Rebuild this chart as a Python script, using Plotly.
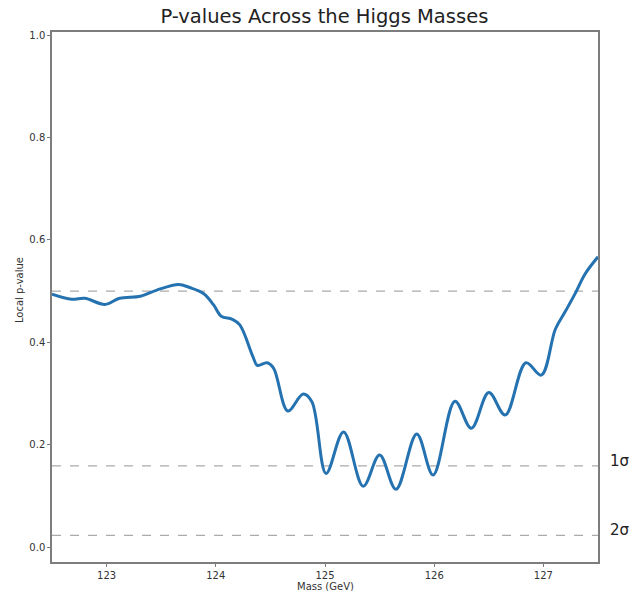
import plotly.graph_objects as go

# Local p-value scan across the Higgs mass window
mass_gev = [122.50, 122.68, 122.80, 122.985, 123.12, 123.31, 123.46, 123.66, 123.76,
            123.89, 123.98, 124.05, 124.15, 124.22, 124.34, 124.38, 124.47, 124.53,
            124.66, 124.80, 124.88, 125.01, 125.17, 125.35, 125.50, 125.65, 125.84,
            125.99, 126.19, 126.34, 126.50, 126.65, 126.84, 126.98, 127.11, 127.20,
            127.30, 127.38, 127.50]
local_p = [0.494, 0.484, 0.486, 0.474, 0.486, 0.490, 0.502, 0.513, 0.507,
           0.495, 0.473, 0.451, 0.445, 0.434, 0.372, 0.355, 0.360, 0.349,
           0.266, 0.299, 0.284, 0.144, 0.225, 0.119, 0.180, 0.113, 0.221,
           0.141, 0.285, 0.232, 0.302, 0.258, 0.360, 0.336, 0.426, 0.460,
           0.499, 0.533, 0.567]

# Reference levels: p = 0.5, then one- and two-sigma thresholds
ref_levels = [0.5, 0.1587, 0.0228]
ref_labels = ["", "1σ", "2σ"]

x_ticks = [123, 124, 125, 126, 127]
y_ticks = [0.0, 0.2, 0.4, 0.6, 0.8, 1.0]

label_font = dict(family="DejaVu Sans", size=10, color="#333")

fig = go.Figure()
fig.add_trace(go.Scatter(
    x=mass_gev, y=local_p, mode="lines",
    line=dict(color="#2572b1", width=3, shape="spline", smoothing=1.0),
    showlegend=False, hoverinfo="x+y",
))

for lvl, lab in zip(ref_levels, ref_labels):
    fig.add_shape(type="line", xref="paper", x0=0, x1=1, yref="y", y0=lvl, y1=lvl,
                  line=dict(color="#ababab", width=1.3, dash="dash"), layer="below")
    if lab:
        fig.add_annotation(xref="paper", x=1.0, xanchor="left", xshift=10,
                           yref="y", y=lvl, yanchor="middle", yshift=5,
                           text=lab, showarrow=False,
                           font=dict(family="DejaVu Sans", size=15, color="#222"))

# Axis titles as annotations for tight placement
fig.add_annotation(xref="paper", x=0.5, yref="paper", y=0, yanchor="top", yshift=-17,
                   text="Mass (GeV)", showarrow=False, font=label_font)
fig.add_annotation(xref="paper", x=0, xanchor="center", xshift=-33,
                   yref="paper", y=0.513, yanchor="middle", textangle=-90,
                   text="Local p-value", showarrow=False, font=label_font)

axis_common = dict(showline=True, mirror=True, linecolor="#7d7d7d", linewidth=1.5,
                   showgrid=False, zeroline=False, ticks="outside", ticklen=3,
                   tickcolor="#7d7d7d", tickwidth=1, automargin=False,
                   tickfont=label_font)

fig.update_layout(
    template="none",
    width=636, height=591,
    margin=dict(l=52, r=38, t=32, b=29),
    paper_bgcolor="white", plot_bgcolor="white",
    title=dict(text="P-values Across the Higgs Masses", x=0.51, xanchor="center",
               y=0.972, yanchor="middle",
               font=dict(family="DejaVu Sans", size=19.5, color="#222")),
    xaxis=dict(range=[122.5, 127.5], tickvals=x_ticks, **axis_common),
    yaxis=dict(range=[-0.029, 1.006], tickvals=y_ticks, tickformat=".1f",
               **axis_common),
)

fig.write_html("out.html")
